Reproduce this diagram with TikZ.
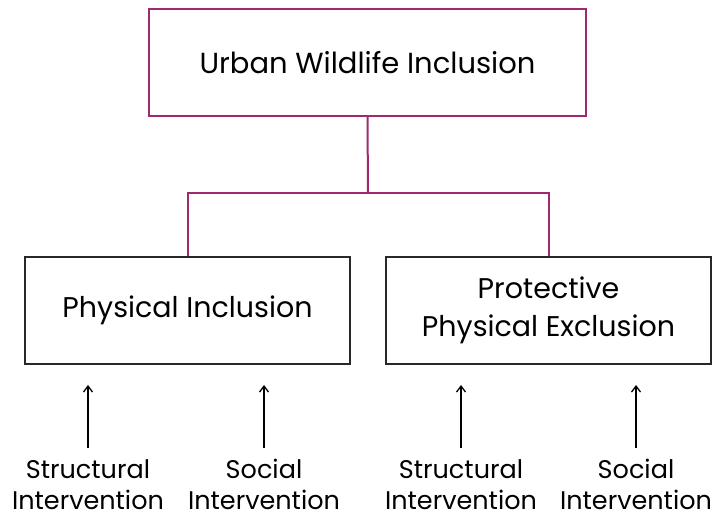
\documentclass[tikz,border=0pt]{standalone}
\usepackage{fontspec}
\setmainfont{Poppins}
\usetikzlibrary{arrows.meta}
\definecolor{plum}{RGB}{160,40,110}
\definecolor{boxline}{RGB}{40,40,40}
\begin{document}
\begin{tikzpicture}[x=1pt,y=-1pt,
  topbox/.style={draw=plum,line width=2pt,minimum width=437pt,minimum height=107pt,inner sep=0pt,font=\fontsize{29}{34}\selectfont},
  subbox/.style={draw=boxline,line width=1.4pt,minimum width=325pt,minimum height=107pt,inner sep=0pt,align=center,font=\fontsize{28.5}{38}\selectfont},
  link/.style={draw=plum,line width=2pt},
  push/.style={draw=black,line width=1.3pt,-{Straight Barb[length=6pt,width=9pt,line width=1.3pt]}},
  tag/.style={align=center,inner sep=0pt,font=\fontsize{25.5}{31}\selectfont}
]
\useasboundingbox (0,0) rectangle (713,518);
% top-level concept and its two branches
\node[topbox] (root) at (367.5,62.5) {Urban Wildlife Inclusion};
\node[subbox] (inc) at (187.5,310.5) {Physical Inclusion};
\node[subbox] (exc) at (548.5,310.5) {Protective\\Physical Exclusion};
\coordinate (hub) at (368,193);
\draw[link] (root.south) -- (hub);
\draw[link] (inc.north) |- (hub) -| (exc.north);
% interventions feeding each branch
\node[tag] (s1) at (88,484.5) {Structural\\Intervention};
\node[tag] (s2) at (264,484.5) {Social\\Intervention};
\node[tag] (s3) at (461,484.5) {Structural\\Intervention};
\node[tag] (s4) at (636,484.5) {Social\\Intervention};
\coordinate (t1) at (88,448);
\coordinate (t2) at (264,448);
\coordinate (t3) at (461,448);
\coordinate (t4) at (636,448);
\coordinate (h1) at (88,385);
\coordinate (h2) at (264,385);
\coordinate (h3) at (461,385);
\coordinate (h4) at (636,385);
\draw[push] (t1) -- (h1);
\draw[push] (t2) -- (h2);
\draw[push] (t3) -- (h3);
\draw[push] (t4) -- (h4);
\end{tikzpicture}
\end{document}
